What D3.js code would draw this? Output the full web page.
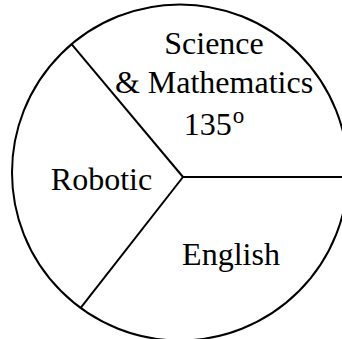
<!DOCTYPE html>
<html>
<head>
<style>
  body { margin: 0; background: #fff; }
  svg text { font-family: "Liberation Serif", "Times New Roman", serif; fill: #000; }
</style>
</head>
<body>
<svg id="chart" width="342" height="339"></svg>
<script src="https://d3js.org/d3.v7.min.js"></script>
<script>
// subjects clockwise, starting at the upper-left divider
var subjects = ["Science & Mathematics", "English", "Robotic"];
var sliceDegrees = [130, 128, 102];   // as drawn in the picture
var labelLines = [["Science", "& Mathematics", "135"], ["English"], ["Robotic"]];

var svg = d3.select("#chart");

var cx = 180, cy = 172.5, r = 168;   // circle
var jx = 183, jy = 177;               // where the dividers meet

var start = -40 * Math.PI / 180;
var pie = d3.pie()
  .sort(null)
  .startAngle(start)
  .endAngle(start + 2 * Math.PI)
  .value(function(d) { return d; });

var slices = pie(sliceDegrees);

// outline
svg.append("circle")
  .attr("cx", cx)
  .attr("cy", cy)
  .attr("r", r)
  .attr("fill", "none")
  .attr("stroke", "#000")
  .attr("stroke-width", 2);

// ray from junction to circle edge, angle clockwise from north
function edgePoint(a) {
  var ux = Math.sin(a), uy = -Math.cos(a);
  var dx = jx - cx, dy = jy - cy;
  var b = dx * ux + dy * uy;
  var c = dx * dx + dy * dy - r * r;
  var t = -b + Math.sqrt(b * b - c);
  return [jx + ux * t, jy + uy * t];
}

svg.selectAll("line.divider")
  .data(slices)
  .enter()
  .append("line")
    .attr("class", "divider")
    .attr("x1", jx)
    .attr("y1", jy)
    .attr("x2", function(d) { return edgePoint(d.startAngle)[0]; })
    .attr("y2", function(d) { return edgePoint(d.startAngle)[1]; })
    .attr("stroke", "#000")
    .attr("stroke-width", 2);

// labels: x and baselines of each line
var labelX = [214, 231, 101.5];
var labelY = [[54, 93, 135], [265], [190]];

var labels = svg.selectAll("g.label")
  .data(slices)
  .enter()
  .append("g")
    .attr("class", "label");

labels.each(function(d, i) {
  var g = d3.select(this);
  labelLines[i].forEach(function(line, k) {
    var t = g.append("text")
      .attr("x", labelX[i])
      .attr("y", labelY[i][k])
      .attr("text-anchor", "middle")
      .style("font-size", "32px");
    t.text(line);
    if (i === 0 && k === 2) {
      t.append("tspan")
        .attr("dx", 1)
        .attr("dy", -12)
        .style("font-size", "23px")
        .text("o");
    }
  });
});
</script>
</body>
</html>
